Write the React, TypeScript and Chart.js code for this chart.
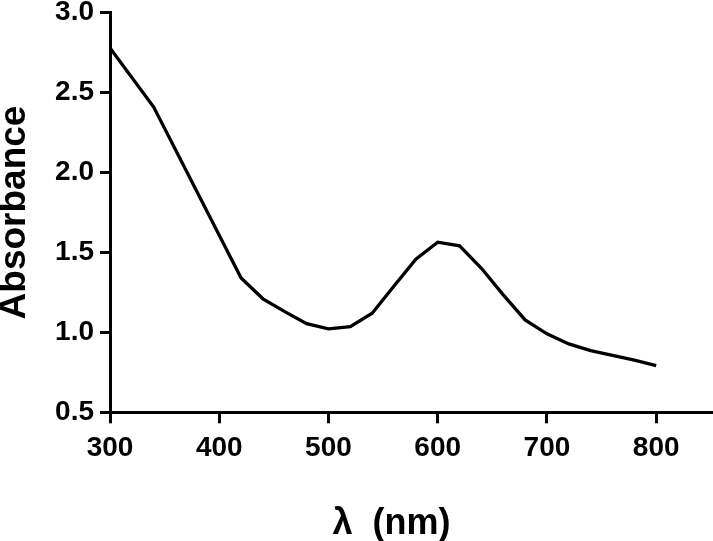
import React, { useEffect, useRef } from "react";
import { Chart, registerables } from "chart.js";

Chart.register(...registerables);

const wavelengths = [300, 340, 420, 440, 460, 480, 500, 520, 540, 560, 580, 600, 620, 640, 660, 680, 700, 720, 740, 760, 780, 800];
const absorbance = [2.78, 2.41, 1.34, 1.21, 1.13, 1.055, 1.022, 1.036, 1.12, 1.29, 1.458, 1.564, 1.541, 1.401, 1.235, 1.078, 0.991, 0.928, 0.886, 0.856, 0.826, 0.792];

const xTitle = "λ  (nm)    ";
const yTitle = "Absorbance";
const xMin = 300;
const xMax = 852;
const yMin = 0.5;
const yMax = 3.0;

const FONT = "'Liberation Sans', Arial, sans-serif";

export default function App() {
  const ref = useRef<HTMLCanvasElement>(null);
  useEffect(() => {
    if (!ref.current) return;
    const chart = new Chart(ref.current, {
      type: "line",
      data: {
        datasets: [
          {
            data: wavelengths.map((x, i) => ({ x, y: absorbance[i] })),
            borderColor: "#000",
            borderWidth: 3.3,
            pointRadius: 0,
            tension: 0,
            fill: false,
          },
        ],
      },
      options: {
        responsive: false,
        animation: false,
        layout: { padding: { top: 12.7, right: 0, left: 0, bottom: 0 } },
        plugins: { legend: { display: false }, tooltip: { enabled: false } },
        scales: {
          x: {
            type: "linear",
            min: xMin,
            max: xMax,
            afterFit: (s: any) => {
              s.height = 128.7;
              s.paddingLeft = 0;
              s.paddingRight = 0;
            },
            ticks: {
              stepSize: 100,
              includeBounds: false,
              color: "#000",
              padding: 8,
              font: { family: FONT, size: 28, weight: "bold" },
            },
            grid: {
              drawOnChartArea: false,
              tickLength: 11,
              tickWidth: 3,
              tickColor: "#000",
            },
            border: { color: "#000", width: 3 },
            title: {
              display: true,
              text: xTitle,
              color: "#000",
              padding: 0,
              font: { family: FONT, size: 36, weight: "bold", lineHeight: 0.95 },
            },
          },
          y: {
            type: "linear",
            min: yMin,
            max: yMax,
            afterFit: (s: any) => {
              s.width = 110;
              s.paddingTop = 0;
              s.paddingBottom = 0;
            },
            ticks: {
              stepSize: 0.5,
              color: "#000",
              padding: 6,
              font: { family: FONT, size: 28, weight: "bold", lineHeight: 0.9 },
              callback: (v: any) => Number(v).toFixed(1),
            },
            grid: {
              drawOnChartArea: false,
              tickLength: 10,
              tickWidth: 3,
              tickColor: "#000",
            },
            border: { color: "#000", width: 3 },
            title: {
              display: true,
              text: yTitle,
              color: "#000",
              padding: 0,
              font: { family: FONT, size: 37, weight: "bold", lineHeight: 0.8 },
            },
          },
        },
      },
    });
    return () => chart.destroy();
  }, []);
  return (
    <canvas
      ref={ref}
      width={713}
      height={541}
      style={{ position: "absolute", left: 0, top: 0, width: 713, height: 541 }}
    />
  );
}
